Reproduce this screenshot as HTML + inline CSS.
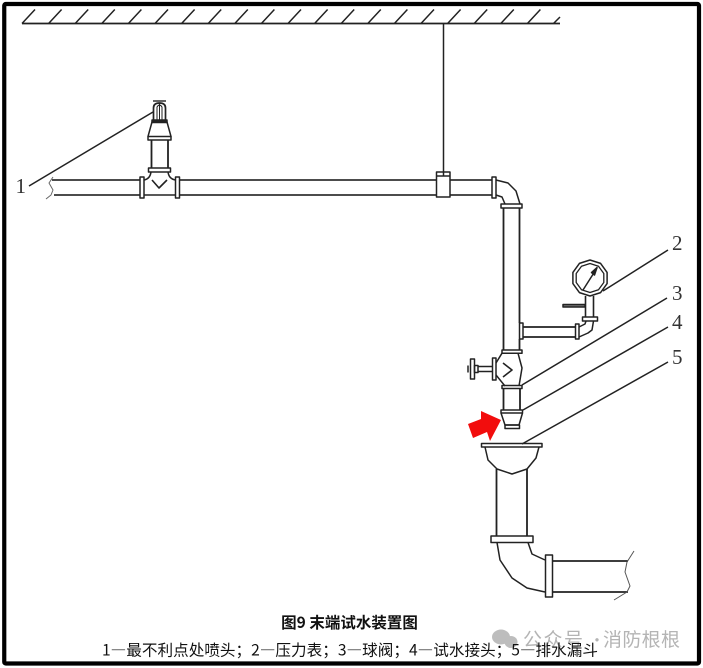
<!DOCTYPE html>
<html lang="zh">
<head>
<meta charset="utf-8">
<title>图9 末端试水装置图</title>
<style>
html,body{margin:0;padding:0;background:#fff;width:703px;height:668px;overflow:hidden}
svg{display:block}
.d{filter:blur(0.35px)}
</style>
</head>
<body>
<svg width="703" height="668" viewBox="0 0 703 668" xmlns="http://www.w3.org/2000/svg">
<rect x="0" y="0" width="703" height="668" fill="#fff"/>
<rect x="4.250" y="4" width="694.750" height="659.500" rx="1.500" fill="none" stroke="#000" stroke-width="4.200"/>

<g class="d">
<g fill="none" stroke="#222" stroke-width="1.500" stroke-linejoin="round">
  <!-- ceiling -->
  <path d="M22 23.500H560" stroke-width="1.800"/>
  <path d="M22 23.500L35 9.500M48.600 23.500L61.600 9.500M75.200 23.500L88.200 9.500M101.800 23.500L114.800 9.500M128.400 23.500L141.400 9.500M155 23.500L168 9.500M181.600 23.500L194.600 9.500M208.200 23.500L221.200 9.500M234.800 23.500L247.800 9.500M261.400 23.500L274.400 9.500M288 23.500L301 9.500M314.600 23.500L327.600 9.500M341.200 23.500L354.200 9.500M367.800 23.500L380.800 9.500M394.400 23.500L407.400 9.500M421 23.500L434 9.500M447.600 23.500L460.600 9.500M474.200 23.500L487.200 9.500M500.800 23.500L513.800 9.500M527.400 23.500L540.400 9.500M553.500 23.500L560 17"/>
  <path d="M443.500 23.500V176"/>

  <!-- main horizontal pipe -->
  <path d="M52 180H140M179 180H436M450 180H492" stroke-width="1.800" stroke="#333"/>
  <path d="M54 195H140M179 195H436M450 195H492" stroke-width="1.800" stroke="#333"/>
  <path d="M53 177L49 183L53 190L51 195L46 199" stroke-width="1" stroke="#666"/>
  <rect x="436.500" y="172" width="13.500" height="25"/>
  <path d="M436.500 176H450"/>

  <!-- tee + sprinkler -->
  <rect x="140" y="177" width="4" height="21"/>
  <rect x="175.500" y="177" width="4" height="21"/>
  <path d="M144 180Q150 179 151 172M175.500 180Q169 179 168 172M144 195H175.500"/>
  <path d="M152 180L159 188L167 180" stroke-width="1.600"/>
  <rect x="148.500" y="168" width="22" height="4"/>
  <path d="M151.500 140V168M168 140V168" stroke-width="1.800"/>
  <path d="M148 136.500L152 122H167L171 136.500Z"/>
  <path d="M148 136.500V140H171V136.500"/>
  <rect x="152" y="120" width="15" height="2.500" fill="#222"/>
  <path d="M153.500 120V108Q153.500 103 159.500 103Q165.500 103 165.500 108V120" stroke-width="1.700"/>
  <path d="M157 120V107Q159.500 103 162 107V120M159.500 103V120" stroke-width="1"/>
  <path d="M153 101H166" stroke-width="1.400"/>

  <!-- upper elbow -->
  <rect x="492" y="177" width="4" height="21"/>
  <path d="M496 180L508 183L516 191L520 204M496 195L502 197L505 204"/>
  <rect x="501" y="204" width="21" height="4"/>

  <!-- vertical pipe -->
  <path d="M503.500 208V350M519.500 208V323M519.500 339V350" stroke-width="1.800"/>

  <!-- branch to gauge -->
  <rect x="519.500" y="323" width="3.500" height="16"/>
  <path d="M523 327H575.500M523 337H575.500" stroke-width="1.800"/>
  <rect x="575.500" y="324" width="3.500" height="15"/>
  <path d="M579 327L585 324L586 321M579 337L588 333L592 330L593.500 321"/>
  <rect x="582.500" y="317" width="15" height="4"/>
  <path d="M585.500 296V317M593.500 296V317" stroke-width="1.600"/>
  <rect x="563" y="304.500" width="22" height="2.500" fill="#777"/>

  <!-- gauge -->
  <polygon points="590,260 600.600,263.400 607.100,272.400 607.100,283.600 600.600,292.600 590,296 579.400,292.600 572.900,283.600 572.900,272.400 579.400,263.400" stroke-width="1.500"/>
  <polygon points="590,263.500 598.500,266.300 603.800,273.500 603.800,282.500 598.500,289.700 590,292.500 581.500,289.700 576.200,282.500 576.200,273.500 581.500,266.300" stroke-width="1.300"/>
  <path d="M583 290L597 268"/>
  <path d="M597 267.500L591.500 272.500L594.500 275Z" fill="#222"/>

  <!-- ball valve -->
  <rect x="502" y="350" width="20" height="3.200"/>
  <rect x="492.500" y="358" width="3.500" height="22"/>
  <path d="M502 353.200L496 363M496 375L505 386M518 353.200L522 368L519 386"/>
  <path d="M503 363L512 370L503 377" stroke-width="1.600"/>
  <path d="M478 366.500H492.500M478 371.500H492.500"/>
  <rect x="470.500" y="359" width="4" height="20"/>
  <rect x="474.500" y="365.500" width="3.500" height="7"/>
  <path d="M468 365.500V372.500"/>
  <rect x="502" y="385.500" width="20" height="3"/>

  <!-- nozzle -->
  <path d="M503.500 388.500V410M520 388.500V410" stroke-width="1.800"/>
  <path d="M501 410H522.500V413H501Z"/>
  <path d="M501 413L505 425H519L522.500 413"/>
  <rect x="505" y="425" width="14.500" height="3.500"/>

  <!-- funnel -->
  <rect x="481.500" y="443.500" width="60.500" height="3.500"/>
  <path d="M485 447L488 460L497 469L512 474L527 469L536 458L539 447"/>
  <path d="M496.500 469V536M527 469V536" stroke-width="1.800"/>
  <rect x="491" y="536" width="42" height="6.500"/>
  <path d="M497 542.500L500 560L512 578L527 588L545 592M528 542.500L532 554L545 560"/>
  <rect x="545.500" y="555" width="7" height="42"/>
  <path d="M552.500 561H628M552.500 592H628" stroke-width="1.800"/>
  <path d="M634 551L627 562L625 572L630 586L627 592L614 600" stroke-width="1" stroke="#555"/>

  <!-- leaders -->
  <path d="M29 186L153 112M603 291L668 250M522 385L667 298M523 410L668 327M522 444L668 362" stroke-width="1.500"/>
</g>

<polygon points="468,424 481,419 481,411 501,420 490,441 487,432 473,438" fill="#f20d0d"/>

<g font-family="'Liberation Serif',serif" font-size="21" fill="#333">
  <text x="15.500" y="193">1</text>
  <text x="672" y="250">2</text>
  <text x="672" y="300">3</text>
  <text x="672" y="329">4</text>
  <text x="672" y="364">5</text>
</g>

<!-- watermark -->
<g fill="#bdbdbd">
  <ellipse cx="501" cy="637" rx="9" ry="7.500"/>
  <ellipse cx="511" cy="642" rx="6.500" ry="6"/>
</g>
<g font-family="'Noto Sans CJK SC','Liberation Sans',sans-serif" font-size="19" fill="#b4b4b4">
  <text x="523" y="646" textLength="60" lengthAdjust="spacing">公众号</text>
  <text x="589" y="646" font-size="16">·</text>
  <text x="603" y="646" textLength="77" lengthAdjust="spacing">消防根根</text>
</g>

<text x="349.500" y="628" text-anchor="middle" font-family="'Noto Sans CJK SC','Liberation Sans',sans-serif" font-size="15.500" font-weight="700" fill="#111">图9 末端试水装置图</text>
<text x="102" y="655.500" font-family="'Noto Sans CJK SC','Liberation Sans',sans-serif" font-size="15.600" fill="#111" textLength="496" lengthAdjust="spacing">1—最不利点处喷头；2—压力表；3—球阀；4—试水接头；5—排水漏斗</text>
</g>
</svg>
</body>
</html>
